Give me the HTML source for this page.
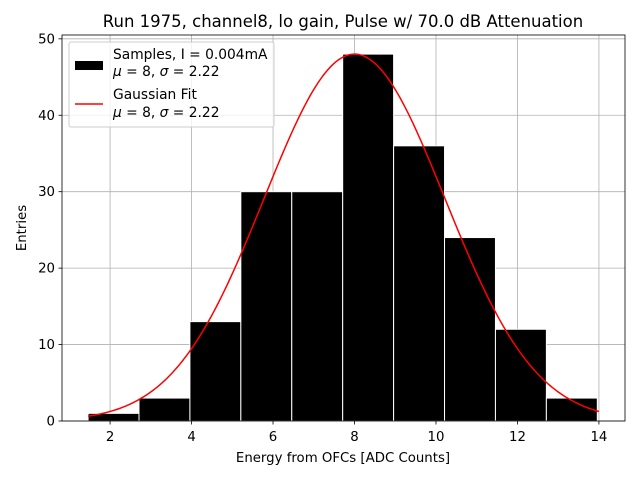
<!DOCTYPE html>
<html><head><meta charset="utf-8"><style>
body{margin:0;background:#fff;font-family:"DejaVu Sans","Liberation Sans",sans-serif}
</style></head><body>
<svg id="c" width="640" height="480" xmlns="http://www.w3.org/2000/svg" font-family="DejaVu Sans, Liberation Sans, sans-serif">
<rect width="640" height="480" fill="#fff"/>
<g id="grid"></g>
<g id="bars"></g>
<path id="fit" fill="none" stroke="#ff0000" stroke-width="1.5"/>
<rect x="62" y="35" width="563" height="386" fill="none" stroke="#000" stroke-width="0.8"/>
<g id="ticks" font-size="13.3"></g>
<text x="343" y="27" text-anchor="middle" font-size="16.5">Run 1975, channel8, lo gain, Pulse w/ 70.0 dB Attenuation</text>
<text x="343" y="462" text-anchor="middle" font-size="13.3">Energy from OFCs [ADC Counts]</text>
<text x="0" y="0" transform="translate(26,228) rotate(-90)" text-anchor="middle" font-size="13.3">Entries</text>
<g>
<rect x="69" y="42" width="205" height="85" rx="2" fill="#fff" fill-opacity="0.8" stroke="#ccc"/>
<rect x="75" y="61" width="28" height="9" fill="#000"/>
<text x="113" y="59" font-size="13.8">Samples, I = 0.004mA</text>
<text x="113" y="76" font-size="13.8"><tspan font-style="italic">μ</tspan> = 8, <tspan font-style="italic">σ</tspan> = 2.22</text>
<line x1="75" y1="104" x2="103" y2="104" stroke="#f00" stroke-width="1.5"/>
<text x="113" y="99" font-size="13.8">Gaussian Fit</text>
<text x="113" y="117" font-size="13.8"><tspan font-style="italic">μ</tspan> = 8, <tspan font-style="italic">σ</tspan> = 2.22</text>
</g>
</svg>
<script>
const binStart = 1.46;
const binWidth = 1.25;
const counts = [1, 3, 13, 30, 30, 48, 36, 24, 12, 3];
const fitMu = 8;
const fitSigma = 2.22;
const fitAmp = 48;
const fitRange = [1.46, 14.0];
const xTicks = [2, 4, 6, 8, 10, 12, 14];
const yTicks = [0, 10, 20, 30, 40, 50];

const X0=62,X1=625,Y0=421,Y1=35,xmin=0.82,xmax=14.64,ymin=0,ymax=50.5;
const sx=v=>X0+(v-xmin)/(xmax-xmin)*(X1-X0);
const sy=v=>Y0-(v-ymin)/(ymax-ymin)*(Y0-Y1);
const NS='http://www.w3.org/2000/svg';
function mk(t,a,p){const e=document.createElementNS(NS,t);for(const k in a)e.setAttribute(k,a[k]);p.appendChild(e);return e;}
const grid=document.getElementById('grid'),bars=document.getElementById('bars'),ticks=document.getElementById('ticks');
xTicks.forEach(v=>{
  const l=mk('line',{x1:sx(v),x2:sx(v),y1:Y1,y2:Y0,stroke:'#b0b0b0','stroke-width':0.8},grid);
  
  
  mk('line',{x1:sx(v),x2:sx(v),y1:Y0,y2:Y0+3.5,stroke:'#000','stroke-width':0.8},ticks);
  const t=mk('text',{x:sx(v),y:Y0+20,'text-anchor':'middle'},ticks);t.textContent=v;
  
  
});
yTicks.forEach(v=>{
  const l=mk('line',{x1:X0,x2:X1,y1:sy(v),y2:sy(v),stroke:'#b0b0b0','stroke-width':0.8},grid);
  
  
  mk('line',{x1:X0-3.5,x2:X0,y1:sy(v),y2:sy(v),stroke:'#000','stroke-width':0.8},ticks);
  const t=mk('text',{x:X0-7,y:sy(v)+4.5,'text-anchor':'end'},ticks);t.textContent=v;
  
  
});
counts.forEach((c,i)=>{
  const a=binStart+i*binWidth,b=a+binWidth;
  const r=mk('rect',{x:sx(a),y:sy(c),width:sx(b)-sx(a),height:sy(0)-sy(c),fill:'#000',stroke:'#fff','stroke-width':1},bars);
  
  
});
let d='';
for(let i=0;i<=200;i++){
  const x=fitRange[0]+(fitRange[1]-fitRange[0])*i/200;
  const y=fitAmp*Math.exp(-((x-fitMu)**2)/(2*fitSigma*fitSigma));
  d+=(i?'L':'M')+sx(x).toFixed(2)+','+sy(y).toFixed(2);
}
document.getElementById('fit').setAttribute('d',d);
</script>
</body></html>
